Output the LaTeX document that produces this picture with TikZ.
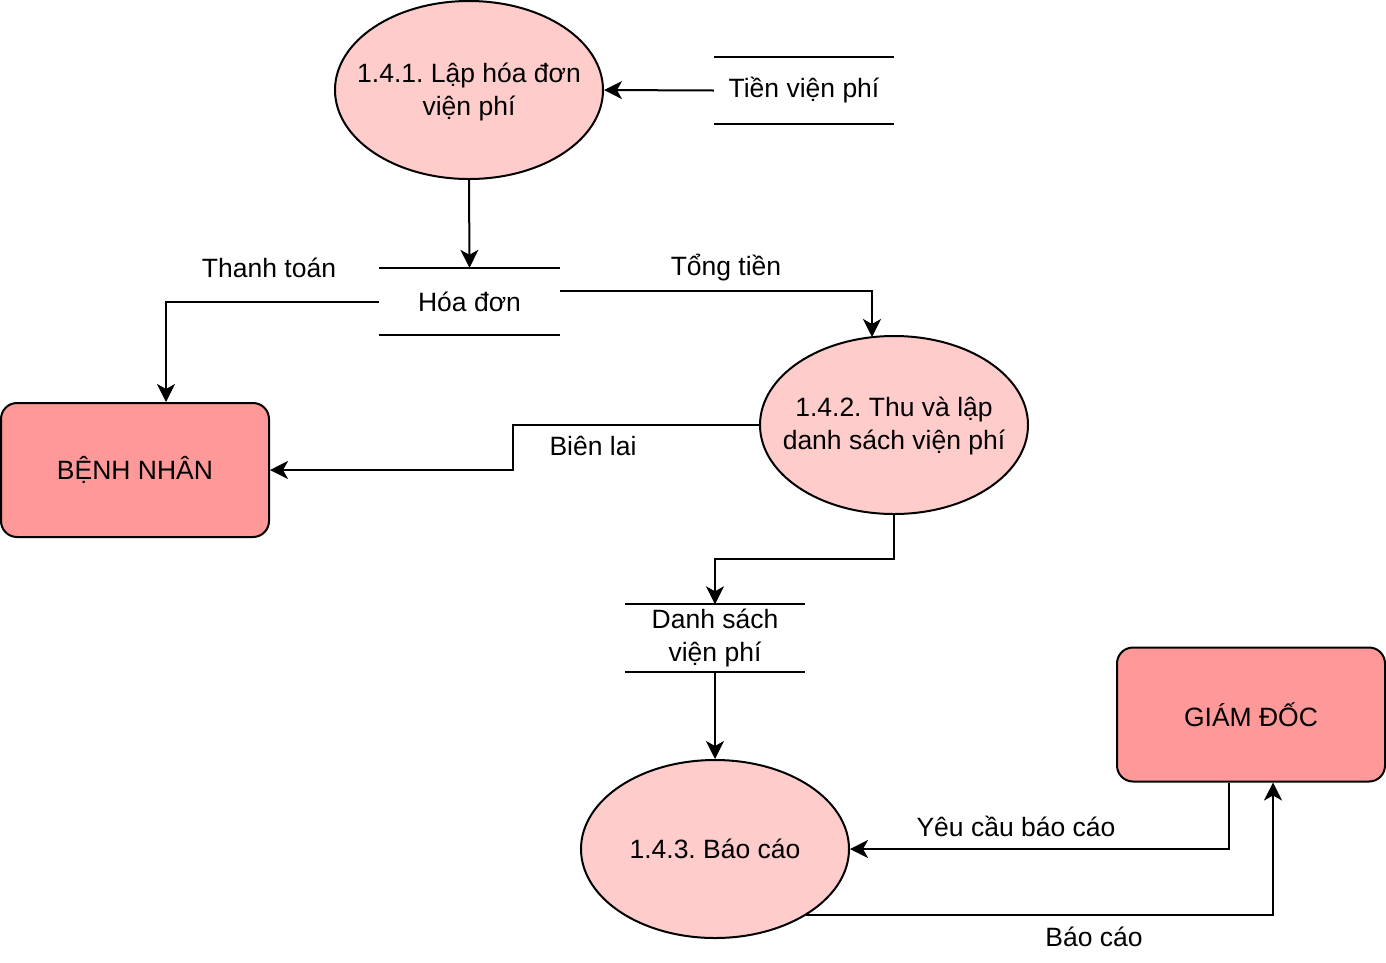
\documentclass[tikz,border=0pt]{standalone}
\usepackage{fontspec}
\setmainfont{Liberation Sans}
\usetikzlibrary{arrows.meta,shapes.geometric,calc}
\definecolor{procfill}{HTML}{FFCCCC}
\definecolor{entfill}{HTML}{FF9999}
\tikzset{
  proc/.style={ellipse, draw=black, fill=procfill, line width=2pt, minimum width=268pt, minimum height=178pt, inner sep=0pt},
  ptext/.style={inner sep=0pt, align=center},
  ent/.style={rectangle, rounded corners=16pt, draw=black, fill=entfill, line width=2pt, minimum width=268pt, minimum height=134pt, inner sep=0pt, align=center},
  store/.style={rectangle, draw=none, minimum width=180pt, minimum height=67pt, inner sep=0pt, align=center},
  storeline/.style={line width=1.8pt},
  flow/.style={line width=2pt, -{Stealth[length=18pt,width=18pt,inset=5pt]}},
  lbl/.style={inner sep=0pt}
}
\begin{document}
\frenchspacing
\begin{tikzpicture}[x=1pt,y=-1pt,font=\fontsize{26.5}{33}\selectfont]
\useasboundingbox (0,0) rectangle (1386,962);
% processes
\node[proc] (e1) at (469,90) {};
\node[ptext] (e1t) at (469,92) {1.4.1. Lập hóa đơn\\viện phí};
\node[proc] (e2) at (894,425) {};
\node[ptext] (e2t) at (894,426) {1.4.2. Thu và lập\\danh sách viện phí};
\node[proc] (e3) at (715,849) {};
\node[ptext] (e3t) at (715,849) {1.4.3. Báo cáo};
% entities
\node[ent] (bn) at (135,470) {BỆNH NHÂN};
\node[ent] (gd) at (1251,714.5) {GIÁM ĐỐC};
% stores
\node[store] (s1) at (804,90.5) {Tiền viện phí};
\node[store] (s2) at (469.5,301.5) {Hóa đơn};
\node[store] (s3) at (715,638) {Danh sách\\viện phí};
\foreach \s in {s1,s2,s3}{
  \draw[storeline] (\s.north west) -- (\s.north east);
  \draw[storeline] (\s.south west) -- (\s.south east);
}
% flows
\draw[flow] (s1.west) -- (e1.east);
\draw[flow] (e1.south) -- (s2.north);
\draw[flow] (s2.west) -| ([xshift=31pt]bn.north);
\coordinate (t1) at (872,337);
\draw[flow] ([yshift=10.5pt]s2.east) -| (t1);
\draw[flow] (e2.west) -- ++(-246,0) |- (bn.east);
\draw[flow] (e2.south) -- ++(0,44) -| (s3.north);
\draw[flow] (s3.south) -- (e3.north);
\draw[flow] ([xshift=-22pt]gd.south) |- (e3.east);
\draw[flow] (e3.-36) -| ([xshift=22pt]gd.south);
% labels
\node[lbl] (l1) at (269,268) {Thanh toán};
\node[lbl] (l2) at (726,268) {Tổng tiền};
\node[lbl] (l3) at (593,446) {Biên lai};
\node[lbl] (l4) at (1016,826) {Yêu cầu báo cáo};
\node[lbl] (l5) at (1094,937) {Báo cáo};
\end{tikzpicture}
\end{document}
